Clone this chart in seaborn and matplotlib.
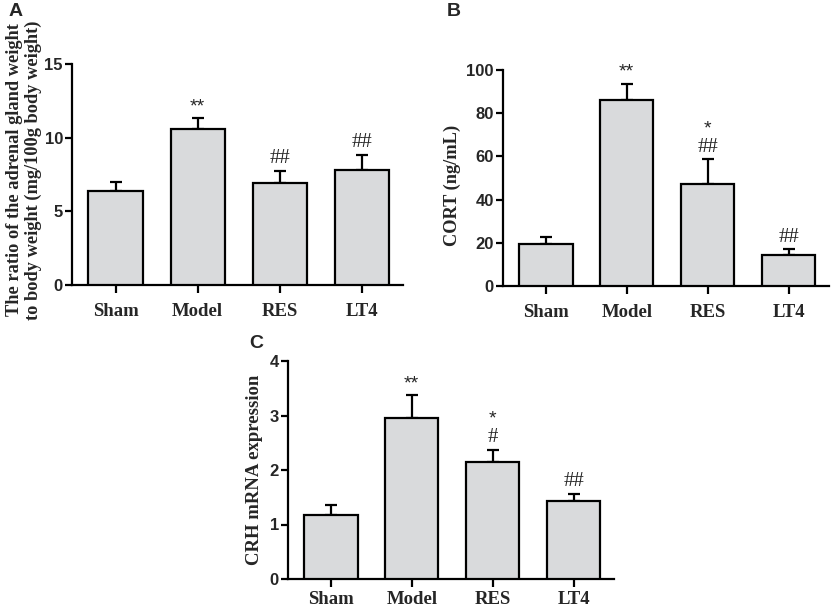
import matplotlib
matplotlib.use("Agg")
import matplotlib.pyplot as plt
import seaborn as sns
import pandas as pd

groups = ["Sham", "Model", "RES", "LT4"]

# Panel A: adrenal gland ratio
a_mean = [6.41, 10.6, 6.89, 7.8]
a_err = [0.61, 0.73, 0.88, 1.01]
a_marks = [[], [("**", "sans")], [("##", "serif")], [("##", "serif")]]

# Panel B: CORT
b_mean = [19.3, 86.3, 47.2, 14.2]
b_err = [3.2, 7.4, 11.4, 2.8]
b_marks = [[], [("**", "sans")], [("##", "serif"), ("*", "sans")], [("##", "serif")]]

# Panel C: CRH mRNA
c_mean = [1.17, 2.96, 2.15, 1.43]
c_err = [0.18, 0.42, 0.22, 0.13]
c_marks = [[], [("**", "sans")], [("#", "serif"), ("*", "sans")], [("##", "serif")]]

sns.set_theme(style="ticks")
plt.rcParams["font.family"] = ["Liberation Sans", "DejaVu Sans"]

fig = plt.figure(figsize=(8.34, 6.08), dpi=100)

W, H = 834, 608


def rect(x0, y0, x1, y1):
    return [x0 / W, 1 - y1 / H, (x1 - x0) / W, (y1 - y0) / H]


serif = ["Liberation Serif", "DejaVu Serif"]
sans = ["Liberation Sans", "DejaVu Sans"]


def panel(r, mean, err, marks, ylim, yticks, ylabel, letter, letter_xy,
          label_right, label_cy, ylsize, xpad):
    ax = fig.add_axes(rect(*r))
    x0, y0, x1, y1 = r
    df = pd.DataFrame({"group": groups, "value": mean})
    sns.barplot(data=df, x="group", y="value", ax=ax, color="#d9dadc",
                saturation=1, edgecolor="black", linewidth=1.6, width=0.66,
                errorbar=None, zorder=3)
    lower = [0] * len(err)
    ax.errorbar(range(len(groups)), mean, yerr=[lower, err], fmt="none",
                ecolor="black", elinewidth=1.6, capsize=4.5, capthick=1.6, zorder=2)
    for i, ms in enumerate(marks):
        off = 2
        top = mean[i] + err[i]
        for txt, fam in ms:
            f = sans if fam == "sans" else serif
            if fam == "sans":
                ax.annotate(txt, (i, top), xytext=(0, off), textcoords="offset points",
                            ha="center", va="bottom", fontsize=14, family=f)
                off += 15
            else:
                ax.annotate(txt, (i, top), xytext=(0, off), textcoords="offset points",
                            ha="center", va="bottom", fontsize=15, family=f)
                off += 14
    ax.set_xlim(-0.53, 3.5)
    ax.set_ylim(*ylim)
    ax.set_yticks(yticks)
    ax.set_xlabel("")
    ax.set_ylabel(ylabel, family=serif, fontweight="bold", fontsize=ylsize,
                  linespacing=1.15)
    ax.yaxis.set_label_coords((label_right - x0) / (x1 - x0),
                              (y1 - label_cy) / (y1 - y0))
    for s in ["top", "right"]:
        ax.spines[s].set_visible(False)
    for s in ["left", "bottom"]:
        ax.spines[s].set_linewidth(1.6)
        ax.spines[s].set_color("black")
    ax.tick_params(axis="y", width=1.6, length=5, color="black", direction="out",
                   pad=1.5)
    ax.tick_params(axis="x", width=1.6, length=6, color="black", direction="out",
                   pad=xpad)
    for t in ax.get_yticklabels():
        t.set_family(sans)
        t.set_fontweight("bold")
        t.set_fontsize(12)
    for t in ax.get_xticklabels():
        t.set_family(serif)
        t.set_fontweight("bold")
        t.set_fontsize(13.5)
    ax.set_facecolor("white")
    fig.text(letter_xy[0] / W, 1 - letter_xy[1] / H, letter, family=sans,
             fontweight="bold", fontsize=14, ha="left", va="center")
    return ax


panel((72, 64, 403, 285), a_mean, a_err, a_marks, (0, 15), [0, 5, 10, 15],
      "The ratio of the adrenal gland weight\nto body weight (mg/100g body weight)",
      "A", (9, 11), 42, 170, 13.2, 7)
panel((503, 70, 829, 286), b_mean, b_err, b_marks, (0, 100), [0, 20, 40, 60, 80, 100],
      "CORT (ng/mL)", "B", (447, 12), 461, 185, 13.2, 7)
panel((288, 361, 614, 579), c_mean, c_err, c_marks, (0, 4), [0, 1, 2, 3, 4],
      "CRH mRNA expression", "C", (249, 343), 263, 470, 13.5, 3)

fig.savefig("out.png", dpi=100, facecolor="white")
